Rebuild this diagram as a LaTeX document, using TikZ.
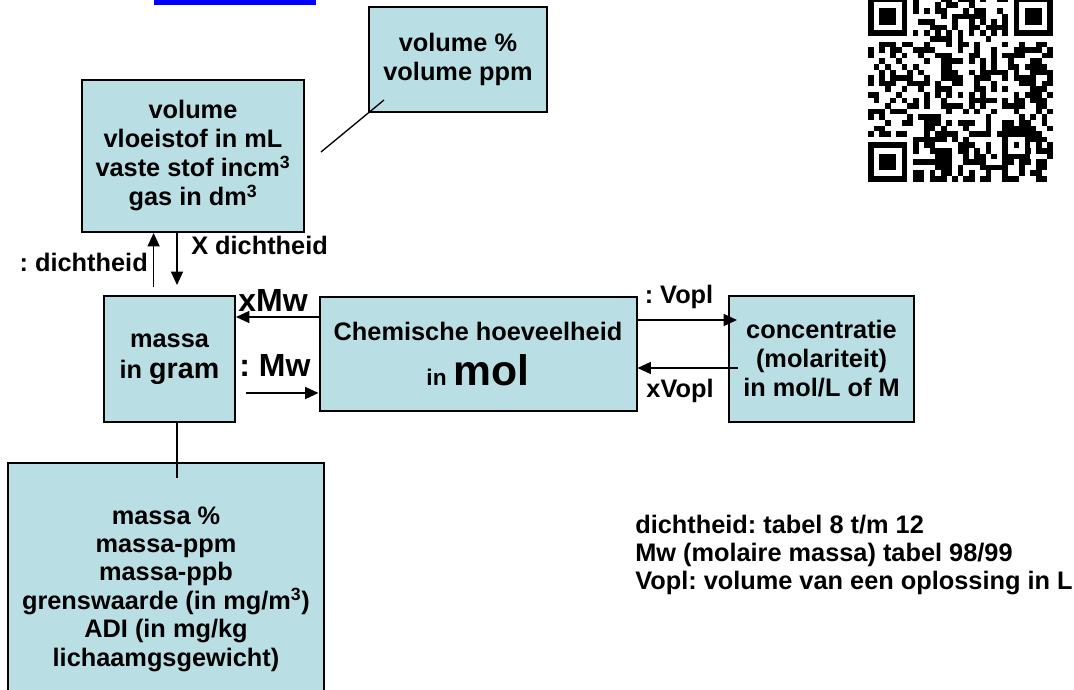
\documentclass[tikz,border=0pt]{standalone}
\usepackage{fontspec}
\setmainfont{Liberation Sans}
\usetikzlibrary{arrows.meta,calc}
\definecolor{boxfill}{RGB}{185,223,228}
\frenchspacing
\begin{document}
\frenchspacing
\begin{tikzpicture}[x=0.75pt,y=-0.75pt,
  box/.style={draw=black, line width=1.5pt, fill=boxfill, inner sep=0pt, align=center, font=\fontsize{19}{21.75}\selectfont\bfseries},
  lbl/.style={inner sep=0pt, align=center, font=\fontsize{19}{21.75}\selectfont\bfseries},
  biglbl/.style={inner sep=0pt, font=\fontsize{24}{28}\selectfont\bfseries},
  arr/.style={line width=1pt, -{Triangle[length=10pt,width=9pt]}},
  ln/.style={line width=1pt}]
\useasboundingbox (0,0) rectangle (1074,689);
\fill[white] (0,0) rectangle (1074,689);

% blue bar (cut-off link underline)
\fill[blue] (154,0) rectangle (316,4.7);

% boxes
\node[box, minimum width=166.5pt, minimum height=114pt] (vol) at (193,156)
  {volume\\vloeistof in mL\\vaste stof incm\textsuperscript{3}\\gas in dm\textsuperscript{3}};
\node[box, minimum width=133.5pt, minimum height=78.75pt] (volp) at (458,59.5)
  {volume \%\\volume ppm};
\node[box, minimum width=98.25pt, minimum height=94.5pt] (massa) at (169.5,359)
  {massa\\[1.5pt]in {\fontsize{21.5}{24}\selectfont gram}};
\node[box, minimum width=237.75pt, minimum height=85.5pt] (chem) at (478,354)
  {Chemische hoeveelheid\\[10pt]{\fontsize{17}{20}\selectfont in} {\fontsize{32}{36}\selectfont mol}};
\node[box, minimum width=138.75pt, minimum height=94.5pt] (conc) at (821.5,359)
  {concentratie\\(molariteit)\\in mol/L of M};
\node[box, font=\fontsize{19}{21.3}\selectfont\bfseries, minimum width=237pt, minimum height=189pt] (bot) at (166,589)
  {massa \%\\massa-ppm\\massa-ppb\\grenswaarde (in mg/m\textsuperscript{3})\\ADI (in mg/kg\\lichaamgsgewicht)};

% labels
\node[lbl, anchor=east] (ld1) at (148,262) {: dichtheid};
\node[lbl, anchor=west] (ld2) at (191,245) {X dichtheid};
\node[biglbl] (lmw1) at (273,300) {xMw};
\node[biglbl] (lmw2) at (275,365) {: Mw};
\node[lbl] (lv1) at (679,297) {: Vopl};
\node[lbl] (lv2) at (680,391) {xVopl};
\node[lbl, anchor=west, align=left, font=\fontsize{19}{21}\selectfont\bfseries] (leg) at (635,555)
  {dichtheid: tabel 8 t/m 12\\Mw (molaire massa) tabel 98/99\\Vopl: volume van een oplossing in L};

% connector end points
\coordinate (a1) at (153.6,287);
\coordinate (a2) at (177,285);
\coordinate (a3) at (320,317);
\coordinate (a4) at (246,393);
\coordinate (a5) at (737,320);
\coordinate (a6) at (738,368);
\coordinate (a7) at (177,478);
\coordinate (a8) at (321,152);
\coordinate (a9) at (384,100);

% connectors
\draw[arr] (a1) -- (a1 |- vol.south);
\draw[arr] (a2 |- vol.south) -- (a2);
\draw[arr] (chem.west |- a3) -- (massa.east |- a3);
\draw[arr] (a4) -- (a4 -| chem.west);
\draw[arr] (a5 -| chem.east) -- (a5);
\draw[arr] (a6) -- (a6 -| chem.east);
\draw[ln] (massa.south -| a7) -- (a7);
\draw[ln] (a8) -- (a9);

% QR code
\begin{scope}[shift={(868,-3.3)}, x=4.2pt, y=-4.2pt]
  \pgfmathsetseed{4711}
  \foreach \r in {0,...,32}{
    \foreach \c in {0,...,32}{
      \pgfmathtruncatemacro{\bit}{rnd<0.5?1:0}
      \ifnum\bit=1 \fill (\c,\r) rectangle ++(1.03,1.03);\fi
    }
  }
  \foreach \fx/\fy in {0/0,26/0,0/26}{
    \fill[white] (\fx-1,\fy-1) rectangle (\fx+8,\fy+8);
    \fill[black] (\fx,\fy) rectangle (\fx+7,\fy+7);
    \fill[white] (\fx+1,\fy+1) rectangle (\fx+6,\fy+6);
    \fill[black] (\fx+2,\fy+2) rectangle (\fx+5,\fy+5);
  }
  \foreach \i in {8,10,...,24}{
    \fill[black] (\i,6) rectangle ++(1,1);
    \fill[black] (6,\i) rectangle ++(1,1);
  }
  \foreach \i in {9,11,...,23}{
    \fill[white] (\i,6) rectangle ++(1,1);
    \fill[white] (6,\i) rectangle ++(1,1);
  }
  \fill[black] (24,24) rectangle (29,29);
  \fill[white] (25,25) rectangle (28,28);
  \fill[black] (26,26) rectangle (27,27);
  \fill[black] (8,25) rectangle ++(1,1);
\end{scope}
\end{tikzpicture}
\end{document}
